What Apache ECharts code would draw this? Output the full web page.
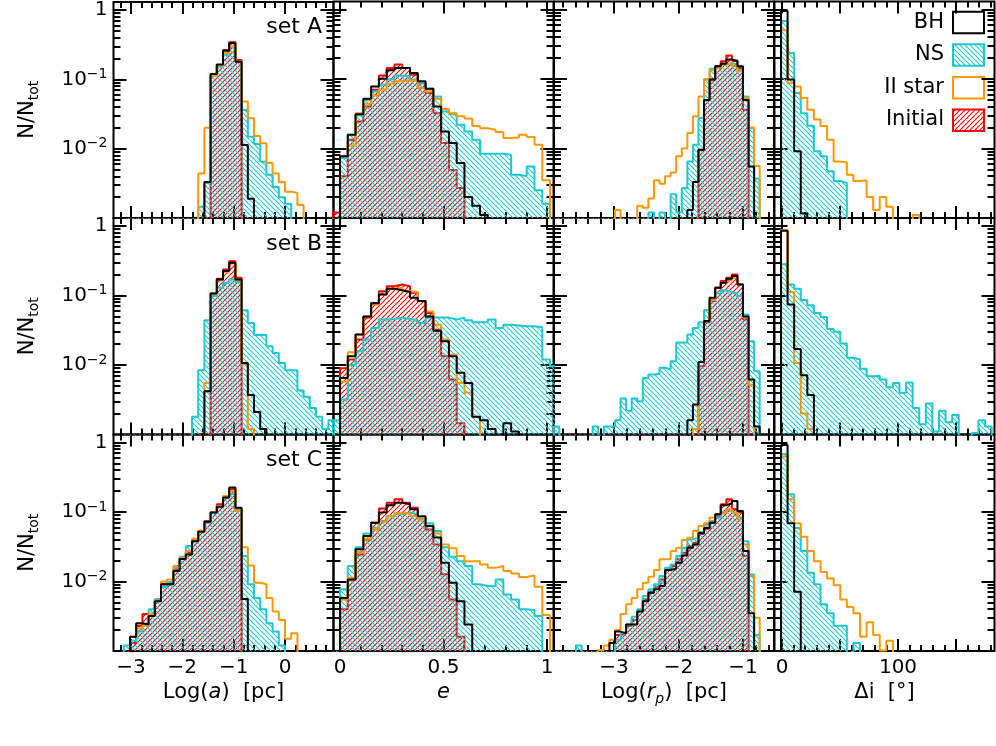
<!DOCTYPE html>
<html>
<head>
<meta charset="utf-8">
<script src="https://cdn.jsdelivr.net/npm/echarts@6.0.0/dist/echarts.min.js"></script>
<style>
html,body{margin:0;padding:0;background:#fff;}
#chart{width:996px;height:746px;}
</style>
</head>
<body>
<div id="chart"></div>
<script>
// ---------------- layout / axes ----------------
const FONT = '"DejaVu Sans", "Liberation Sans", sans-serif';
const colLeft = [113.5, 333.5, 554, 774.5];
const colWidth = 220;
const rowTop = [1.5, 218, 434.5];
const rowHeight = 216.5;

const xMin = [-3.341, -0.0314, -3.930, -6.47];
const xMax = [0.945, 1.0314, -0.519, 183.2];
const binOrigin = [-3.0195, 0, -2.9845, -0.86];
const binWidth = [0.1208, 0.03758, 0.0863, 5.675];
const binStartK = [-1, -1, -11, 0];

const xMajor = [[-3, -2, -1, 0], [0, 0.5, 1], [-3, -2, -1], [0, 50, 100, 150]];
const xMinor = [
  [-3.2, -2.8, -2.6, -2.4, -2.2, -1.8, -1.6, -1.4, -1.2, -0.8, -0.6, -0.4, -0.2, 0.2, 0.4, 0.6, 0.8],
  [0.1, 0.2, 0.3, 0.4, 0.6, 0.7, 0.8, 0.9],
  [-3.8, -3.6, -3.4, -3.2, -2.8, -2.6, -2.4, -2.2, -1.8, -1.6, -1.4, -1.2, -0.8, -0.6],
  [10, 20, 30, 40, 60, 70, 80, 90, 110, 120, 130, 140, 160, 170, 180]
];
const xLabelVals = [[-3, -2, -1, 0], [0, 0.5, 1], [-3, -2, -1], [0, 100]];
const xLabelText = [['−3', '−2', '−1', '0'], ['0', '0.5', '1'], ['−3', '−2', '−1'], ['0', '100']];
const xTitles = ['{n|Log(}{i|a}{n|)  [pc]}', '{i|e}', '{n|Log(}{i|r}{s|p}{n|)  [pc]}', '{n|Δi  [°]}'];

const yMin = 0.001, yMax = 1.3;
const yMajorExp = [-2, -1, 0];
const yMajorText = ['{b|10}{s|−2}', '{b|10}{s|−1}', '{b|1}'];
const yMinorVals = [0.002, 0.003, 0.004, 0.005, 0.006, 0.007, 0.008, 0.009,
  0.02, 0.03, 0.04, 0.05, 0.06, 0.07, 0.08, 0.09,
  0.2, 0.3, 0.4, 0.5, 0.6, 0.7, 0.8, 0.9];

const setNames = ['set A', 'set B', 'set C'];
const legendNames = ['BH', 'NS', 'II star', 'Initial'];

const COL_BH = '#000000', COL_NS = '#1ec8d2', COL_II = '#ff9800', COL_IN = '#ff0000';

// ---------------- data (N/Ntot per bin) ----------------
// column 1: Log(a), bins from k=-1
const A1_BH = [0,0,0,0,0,0,0,0,0,0,0,0,0, 0.0033,0.119,0.164,0.259,0.331,0.18,0.0113,0.0019];
const A1_NS = [0,0,0,0,0,0,0,0,0,0,0,0, 0.00145,0.0032,0.112,0.152,0.224,0.296,0.18,0.036,0.0149,0.0117,0.0065,0.0042,0.0028,0.002,0.0016];
const A1_II = [0,0,0,0,0,0,0,0,0,0,0,0, 0.0044,0.0201,0.112,0.158,0.237,0.296,0.18,0.0477,0.0274,0.0152,0.012,0.0062,0.0044,0.0033,0.0024,0.0023,0.00154];
const A1_IN = [0,0,0,0,0,0,0,0,0,0,0,0,0,0, 0.115,0.161,0.265,0.342,0.19];

const B1_BH = [0,0,0,0,0,0,0,0,0,0,0,0,0, 0.0042,0.107,0.17,0.224,0.296,0.17,0.0107,0.0037,0.0021,0.0012];
const B1_NS = [0,0,0,0,0,0,0,0,0,0,0, 0.0018,0.0084,0.044,0.098,0.129,0.152,0.17,0.156,0.061,0.04,0.027,0.027,0.0186,0.0149,0.0107,0.0084,0.0084,0.0043,0.0035,0.0024,0.0018,0.0012,0.0016];
const B1_II = [0,0,0,0,0,0,0,0,0,0,0,0,0, 0.0055,0.105,0.165,0.22,0.29,0.168,0.0102,0.0012];
const B1_IN = [0,0,0,0,0,0,0,0,0,0,0,0,0,0, 0.107,0.174,0.237,0.31,0.18];

const C1_BH = [0, 0.0016,0.0025,0.0024,0.0032,0.0052,0.0091,0.0091,0.0141,0.021,0.0245,0.038,0.052,0.072,0.098,0.119,0.161,0.224,0.115,0.0056];
const C1_NS = [0.0012,0.0014,0.0019,0.0023,0.004,0.0055,0.0083,0.0098,0.0157,0.0226,0.0323,0.038,0.052,0.07,0.096,0.119,0.161,0.18,0.109,0.0232,0.0091,0.0058,0.004,0.0025,0.0019,0.0012];
const C1_II = [0, 0.0016,0.0021,0.0023,0.0034,0.0052,0.01,0.0107,0.0167,0.022,0.0274,0.041,0.054,0.072,0.1,0.122,0.17,0.2,0.103,0.031,0.017,0.0096,0.0091,0.0058,0.0037,0.0028,0.0015,0.0018];
const C1_IN = [0, 0.0013,0.0023,0.0034,0.0035,0.0055,0.0091,0.0096,0.0149,0.021,0.026,0.039,0.053,0.074,0.1,0.129,0.166,0.212,0.109];

// column 2: e, bins from k=-1
const A2_BH = [0, 0.0077,0.0157,0.031,0.052,0.078,0.101,0.133,0.144,0.144,0.122,0.093,0.072,0.04,0.0176,0.012,0.0062,0.002,0.0015,0.0011];
const A2_NS = [0, 0.0073,0.0157,0.03,0.05,0.066,0.083,0.098,0.112,0.109,0.098,0.087,0.072,0.056,0.034,0.031,0.022,0.0176,0.0134,0.0084,0.0084,0.0084,0.0081,0.0042,0.004,0.0055,0.0025,0.0016];
const A2_II = [0, 0.0077,0.011,0.032,0.044,0.058,0.07,0.085,0.093,0.096,0.095,0.074,0.066,0.052,0.037,0.032,0.029,0.027,0.021,0.0196,0.0186,0.0172,0.0141,0.0144,0.0157,0.0146,0.0113,0.0035];
const A2_IN = [0.0012, 0.004,0.0134,0.0245,0.04,0.07,0.112,0.144,0.161,0.144,0.115,0.087,0.063,0.032,0.012,0.0049,0.0027];

const B2_BH = [0, 0.0065,0.0134,0.0274,0.05,0.077,0.103,0.125,0.119,0.112,0.093,0.083,0.05,0.031,0.022,0.0134,0.0077,0.0055,0.0018,0.0016,0.0012,0,0.00145,0.0011];
const B2_NS = [0.0016, 0.0032,0.01,0.0157,0.0232,0.034,0.045,0.046,0.048,0.046,0.044,0.04,0.048,0.048,0.048,0.045,0.048,0.044,0.041,0.041,0.045,0.034,0.038,0.037,0.036,0.036,0.035,0.012,0.0096];
const B2_II = [0, 0.0058,0.0152,0.0274,0.05,0.074,0.103,0.125,0.129,0.115,0.112,0.083,0.059,0.038,0.0232,0.0141,0.0055,0.004,0.0018];
const B2_IN = [0, 0.009,0.012,0.0232,0.048,0.078,0.115,0.136,0.144,0.136,0.109,0.083,0.056,0.032,0.0134,0.0062,0.00145];

const C2_BH = [0, 0.0058,0.0107,0.029,0.045,0.07,0.098,0.125,0.136,0.129,0.109,0.087,0.063,0.043,0.0186,0.0096,0.0052,0.0024];
const C2_NS = [0, 0.0077,0.0167,0.031,0.049,0.059,0.074,0.086,0.093,0.098,0.093,0.08,0.069,0.053,0.031,0.0226,0.0196,0.0167,0.0091,0.0086,0.0086,0.0107,0.0065,0.0055,0.004,0.0039,0.0032];
const C2_II = [0, 0.0055,0.0113,0.0265,0.041,0.056,0.072,0.087,0.096,0.096,0.087,0.077,0.063,0.049,0.034,0.03,0.0232,0.0196,0.0196,0.0176,0.0157,0.0167,0.0141,0.013,0.0116,0.0122,0.0084,0.0033];
const C2_IN = [0, 0.004,0.0107,0.0245,0.04,0.07,0.112,0.136,0.152,0.136,0.115,0.08,0.056,0.034,0.0127,0.0055,0.0016];

// column 3: Log(rp), bins from k=-11
const A3_BH = [0,0,0,0,0,0,0,0,0,0,0,0,0,0,0,0,0,0,0,0,0,0,0,0, 0.0013,0.0033,0.0096,0.05,0.098,0.152,0.166,0.19,0.18,0.152,0.05,0.0055];
const A3_NS = [0,0,0,0,0,0,0,0,0,0,0,0,0,0,0,0,0, 0.0012,0,0.0012,0,0.0022,0.0012,0.0027,0.0065,0.0113,0.0274,0.1,0.14,0.144,0.161,0.17,0.161,0.136,0.056,0.0196,0.0037];
const A3_II = [0,0,0,0,0,0,0,0,0,0,0, 0.0013,0,0,0,0.0015,0.0014,0.0019,0.0035,0.0031,0.004,0.0045,0.0077,0.01,0.0167,0.029,0.056,0.098,0.133,0.144,0.161,0.17,0.152,0.129,0.053,0.02,0.0056];
const A3_IN = [0,0,0,0,0,0,0,0,0,0,0,0,0,0,0,0,0,0,0,0,0,0,0,0,0,0, 0.0096,0.05,0.098,0.152,0.18,0.217,0.184,0.144,0.036];

const B3_BH = [0,0,0,0,0,0,0,0,0,0,0,0,0,0,0,0,0,0,0,0,0,0,0,0, 0.0016,0.0027,0.011,0.043,0.093,0.129,0.152,0.174,0.19,0.144,0.05,0.0062,0.0013];
const B3_NS = [0.0013, 0,0,0,0,0,0, 0.0013, 0, 0.0013, 0.0013, 0.0016,0.0033,0.0022,0.0033,0.003,0.0065,0.0073,0.0075,0.0091,0.0086,0.0113,0.021,0.021,0.0274,0.034,0.041,0.062,0.087,0.107,0.119,0.112,0.107,0.098,0.053,0.022,0.0081];
const B3_II = [0,0,0,0,0,0,0,0,0,0,0,0,0,0,0,0,0,0,0,0,0,0,0,0,0, 0.0012,0.011,0.043,0.087,0.129,0.152,0.166,0.18,0.144,0.048,0.0052];
const B3_IN = [0,0,0,0,0,0,0,0,0,0,0,0,0,0,0,0,0,0,0,0,0,0,0,0,0,0, 0.0096,0.041,0.083,0.129,0.161,0.18,0.2,0.144,0.045];

const C3_BH = [0,0,0,0,0,0,0,0,0,0, 0.0013,0.0019,0.0018,0.0024,0.0024,0.0037,0.0052,0.0069,0.0077,0.0086,0.0146,0.0152,0.0186,0.0237,0.0306,0.034,0.05,0.059,0.07,0.093,0.125,0.133,0.144,0.103,0.0274,0.0035];
const C3_NS = [0,0,0,0, 0.0012, 0,0,0,0,0,0, 0.00145,0.0018,0.0024,0.0031,0.004,0.0062,0.0077,0.0091,0.012,0.0157,0.0176,0.0232,0.0306,0.0403,0.0426,0.0514,0.066,0.074,0.083,0.1,0.107,0.098,0.083,0.038,0.0126,0.0017];
const C3_II = [0,0,0,0,0,0,0,0, 0.00103,0.0012,0.00145,0.002,0.0034,0.0047,0.0058,0.0077,0.0096,0.0117,0.0146,0.0208,0.021,0.0274,0.0306,0.0395,0.0426,0.053,0.063,0.0685,0.083,0.093,0.098,0.109,0.098,0.078,0.034,0.012,0.003];
const C3_IN = [0,0,0,0,0,0,0,0,0,0,0, 0.0017,0.0018,0.0023,0.0028,0.0037,0.0055,0.0071,0.0084,0.0107,0.0149,0.0167,0.0208,0.0259,0.0323,0.0361,0.048,0.0574,0.07,0.087,0.129,0.152,0.109,0.098,0.0232];

// column 4: delta i, bins from k=0
const A4_BH = [0.95,0.098,0.0091,0.00116];
const A4_NS = [0.68,0.237,0.063,0.032,0.0212,0.0091,0.0077,0.0047,0.0034,0.0032];
const A4_II = [0.503,0.087,0.078,0.053,0.036,0.026,0.021,0.0134,0.0065,0.0063,0.0042,0.0034,0.0035,0.002,0.0013,0.002,0.00145,0,0,0,0.0011];
const A4_IN = [];
const B4_BH = [0.85,0.074,0.017,0.0071,0.0037];
const B4_NS = [0.28,0.144,0.125,0.086,0.072,0.056,0.049,0.033,0.03,0.0203,0.0127,0.012,0.0088,0.0069,0.007,0.0062,0.0048,0.0055,0.004,0.0056,0.0024,0.0014,0.0028,0.0011,0.0022,0.0015,0.0019,0,0,0.00105,0.0016,0.0013];
const B4_II = [0.875,0.112,0.0107,0.002,0.0012];
const B4_IN = [];
const C4_BH = [0.915,0.0685,0.0071];
const C4_NS = [0.68,0.18,0.059,0.0274,0.0134,0.0091,0.0047,0.0035,0.0023,0.0023,0,0.0013];
const C4_II = [0.628,0.152,0.0685,0.044,0.0274,0.0196,0.0137,0.011,0.0088,0.0055,0.0043,0.0035,0.0016,0.0026,0.0017,0.00102,0.0014];
const C4_IN = [];

const panels = [
  [[A1_IN, A1_NS, A1_II, A1_BH], [A2_IN, A2_NS, A2_II, A2_BH], [A3_IN, A3_NS, A3_II, A3_BH], [A4_IN, A4_NS, A4_II, A4_BH]],
  [[B1_IN, B1_NS, B1_II, B1_BH], [B2_IN, B2_NS, B2_II, B2_BH], [B3_IN, B3_NS, B3_II, B3_BH], [B4_IN, B4_NS, B4_II, B4_BH]],
  [[C1_IN, C1_NS, C1_II, C1_BH], [C2_IN, C2_NS, C2_II, C2_BH], [C3_IN, C3_NS, C3_II, C3_BH], [C4_IN, C4_NS, C4_II, C4_BH]]
];

// ---------------- helpers ----------------
const TINY = 1e-6;
function hatch(color, dir) {
  const s = 5;
  const c = document.createElement('canvas');
  c.width = s; c.height = s;
  const g = c.getContext('2d');
  g.strokeStyle = color; g.lineWidth = 1.1;
  g.beginPath();
  for (let o = -s; o <= s; o += s) {
    if (dir > 0) { g.moveTo(o, s); g.lineTo(o + s, 0); }
    else { g.moveTo(o, 0); g.lineTo(o + s, s); }
  }
  g.stroke();
  return c;
}
const patNS = { image: hatch(COL_NS, -1), repeat: 'repeat' };
const patIN = { image: hatch(COL_IN, 1), repeat: 'repeat' };

function stepData(vals, c) {
  if (!vals.length) return [];
  const k0 = binStartK[c], o = binOrigin[c], w = binWidth[c];
  const pts = [[o + k0 * w, TINY]];
  vals.forEach((v, i) => pts.push([o + (k0 + i) * w, v > 0 ? v : TINY]));
  const last = vals[vals.length - 1];
  const xe = o + (k0 + vals.length) * w;
  pts.push([xe, last > 0 ? last : TINY]);
  pts.push([xe, TINY]);
  return pts;
}
function labelFor(vals, texts) {
  return function (v) {
    for (let i = 0; i < vals.length; i++) if (Math.abs(vals[i] - v) < 1e-9) return texts[i];
    return '';
  };
}

const grids = [], xAxes = [], yAxes = [], series = [], graphics = [];
const tickStyle = { color: '#000', width: 2 };
const noLine = { show: false, onZero: false };
const logMax = Math.log10(yMax);
const yMinorLog = yMinorVals.map(v => Math.log10(v));
const styles = [
  { color: COL_IN, area: patIN },
  { color: COL_NS, area: patNS },
  { color: COL_II, area: null },
  { color: COL_BH, area: null }
];

for (let r = 0; r < 3; r++) {
  for (let c = 0; c < 4; c++) {
    const g = r * 4 + c;
    grids.push({ left: colLeft[c], top: rowTop[r], width: colWidth, height: rowHeight,
      show: true, borderColor: '#000', borderWidth: 2, backgroundColor: 'rgba(0,0,0,0)' });
    const xb = { type: 'value', gridIndex: g, min: xMin[c], max: xMax[c], splitLine: { show: false },
      axisLine: noLine };
    xAxes.push(Object.assign({}, xb, {
      position: 'bottom',
      axisTick: { inside: true, length: 12, customValues: xMajor[c], lineStyle: tickStyle },
      axisLabel: { show: r === 2, customValues: xLabelVals[c], formatter: labelFor(xLabelVals[c], xLabelText[c]),
        margin: 7, fontSize: 20, fontFamily: FONT, color: '#000' },
      name: r === 2 ? xTitles[c] : '', nameLocation: 'middle', nameGap: 29,
      nameTextStyle: { color: '#000', fontSize: 21, fontFamily: FONT, rich: {
        n: { fontSize: 21, fontFamily: FONT, lineHeight: 26, color: '#000' },
        i: { fontSize: 21, fontFamily: FONT, fontStyle: 'italic', lineHeight: 26, color: '#000' },
        s: { fontSize: 14, fontFamily: FONT, fontStyle: 'italic', lineHeight: 10, verticalAlign: 'bottom', color: '#000' } } }
    }));
    xAxes.push(Object.assign({}, xb, { position: 'bottom',
      axisTick: { inside: true, length: 6, customValues: xMinor[c], lineStyle: tickStyle }, axisLabel: { show: false } }));
    xAxes.push(Object.assign({}, xb, { position: 'top',
      axisTick: { inside: true, length: 12, customValues: xMajor[c], lineStyle: tickStyle }, axisLabel: { show: false } }));
    xAxes.push(Object.assign({}, xb, { position: 'top',
      axisTick: { inside: true, length: 6, customValues: xMinor[c], lineStyle: tickStyle }, axisLabel: { show: false } }));

    const yData = yAxes.length;
    yAxes.push({ type: 'log', logBase: 10, gridIndex: g, min: yMin, max: yMax, show: false, axisLine: noLine });
    const yb = { type: 'value', gridIndex: g, min: -3, max: logMax, splitLine: { show: false }, axisLine: noLine };
    yAxes.push(Object.assign({}, yb, { position: 'left',
      axisTick: { inside: true, length: 13, customValues: yMajorExp, lineStyle: tickStyle },
      axisLabel: { show: c === 0, customValues: yMajorExp, formatter: labelFor(yMajorExp, yMajorText), margin: 6,
        color: '#000', rich: {
          b: { fontSize: 20, fontFamily: FONT, lineHeight: 24, color: '#000' },
          s: { fontSize: 14, fontFamily: FONT, lineHeight: 10, verticalAlign: 'top', color: '#000' } } } }));
    yAxes.push(Object.assign({}, yb, { position: 'left',
      axisTick: { inside: true, length: 7, customValues: yMinorLog, lineStyle: tickStyle }, axisLabel: { show: false } }));
    yAxes.push(Object.assign({}, yb, { position: 'right',
      axisTick: { inside: true, length: 13, customValues: yMajorExp, lineStyle: tickStyle }, axisLabel: { show: false } }));
    yAxes.push(Object.assign({}, yb, { position: 'right',
      axisTick: { inside: true, length: 7, customValues: yMinorLog, lineStyle: tickStyle }, axisLabel: { show: false } }));

    const sets = panels[r][c];
    for (let s = 0; s < 4; s++) {
      const data = stepData(sets[s], c);
      if (!data.length) continue;
      const st = styles[s];
      const ser = { type: 'line', name: legendNames[[3, 1, 2, 0][s]], xAxisIndex: g * 4, yAxisIndex: yData,
        data: data, step: 'end', symbol: 'none', silent: true, clip: true, z: 2 + s,
        lineStyle: { color: st.color, width: 2 } };
      if (st.area) ser.areaStyle = { color: st.area, origin: yMin, opacity: 1 };
      series.push(ser);
    }
  }
}

// y titles and set labels
for (let r = 0; r < 3; r++) {
  graphics.push({ type: 'text', x: 28, y: rowTop[r] + rowHeight / 2, rotation: Math.PI / 2,
    style: { text: '{n|N/N}{s|tot}', align: 'center', verticalAlign: 'middle', textAlign: 'center', textVerticalAlign: 'middle',
      rich: { n: { fontSize: 21, fontFamily: FONT, lineHeight: 26, fill: '#000' },
              s: { fontSize: 14, fontFamily: FONT, lineHeight: 10, verticalAlign: 'bottom', fill: '#000' } } } });
  graphics.push({ type: 'text', x: 322, y: rowTop[r] + 26,
    style: { text: setNames[r], font: '22px ' + FONT, fill: '#000', align: 'right', verticalAlign: 'middle', textAlign: 'right', textVerticalAlign: 'middle' } });
}
// legend
const legFill = ['none', { image: hatch(COL_NS, -1), repeat: 'repeat' }, 'none', { image: hatch(COL_IN, 1), repeat: 'repeat' }];
const legStroke = [COL_BH, COL_NS, COL_II, COL_IN];
for (let i = 0; i < 4; i++) {
  graphics.push({ type: 'text', x: 944, y: 22.5 + 32.5 * i,
    style: { text: legendNames[i], font: '21px ' + FONT, fill: '#000', align: 'right', verticalAlign: 'middle', textAlign: 'right', textVerticalAlign: 'middle' } });
  graphics.push({ type: 'rect', shape: { x: 953, y: 11.7 + 32.6 * i, width: 31, height: 21.5 },
    style: { fill: legFill[i], stroke: legStroke[i], lineWidth: 2 } });
}

const chart = echarts.init(document.getElementById('chart'), null, { renderer: 'canvas' });
chart.setOption({
  animation: false,
  backgroundColor: '#fff',
  textStyle: { fontFamily: FONT },
  grid: grids, xAxis: xAxes, yAxis: yAxes, series: series,
  graphic: graphics
});
</script>
</body>
</html>
